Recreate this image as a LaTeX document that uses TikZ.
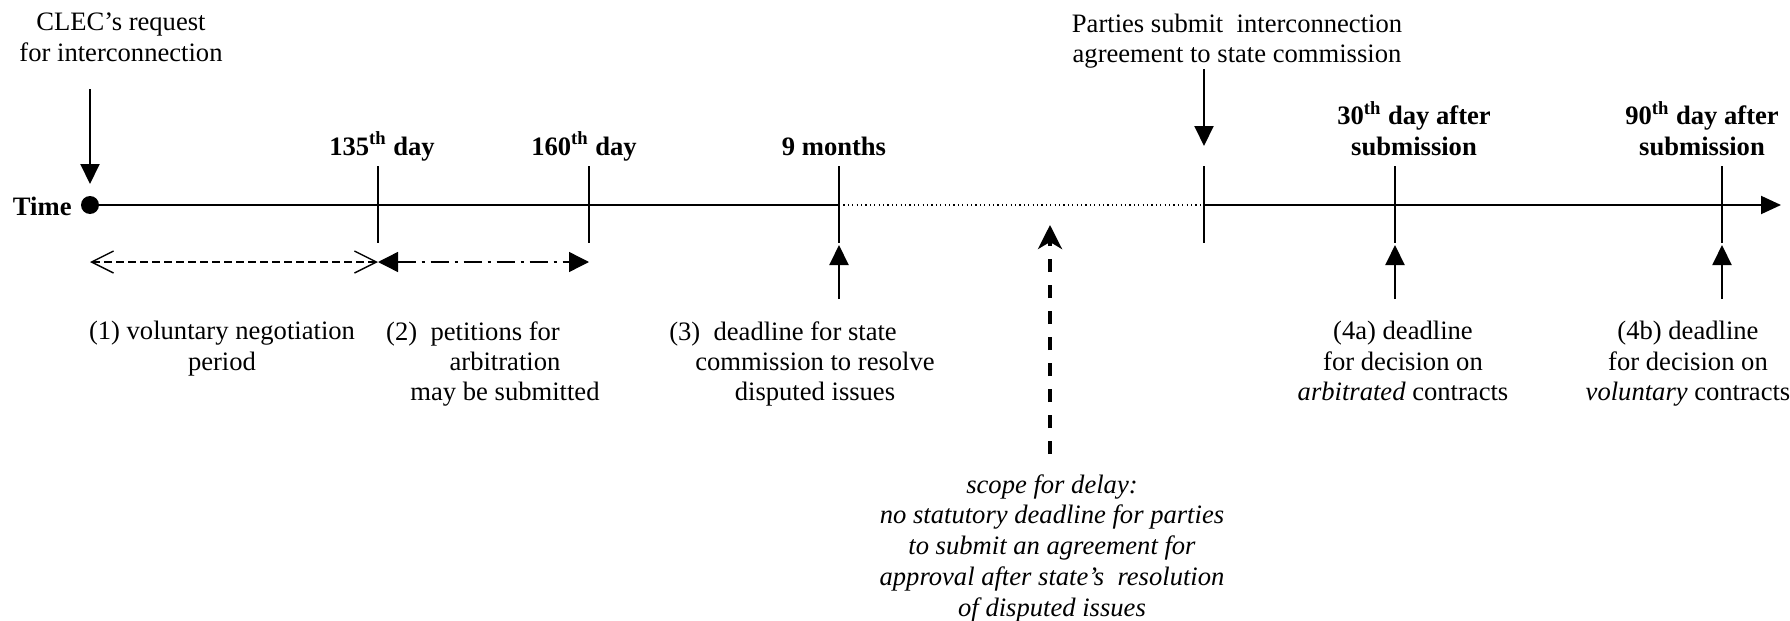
\documentclass[tikz,border=0pt]{standalone}
\usepackage{fontspec}
\setmainfont{Liberation Serif}
\usetikzlibrary{arrows.meta}
\begin{document}
\begin{tikzpicture}[x=0.5pt,y=-0.5pt,
  lbl/.style={font=\fontsize{13.3}{15.2}\selectfont, inner sep=0pt, align=center},
  blbl/.style={lbl, font=\fontsize{13.3}{15.2}\selectfont\bfseries},
  ilbl/.style={lbl, font=\fontsize{13.3}{15.4}\selectfont\itshape},
  tickline/.style={line width=0.8pt},
  axis/.style={line width=1pt},
  ptr/.style={line width=1pt, -{Triangle[length=10pt,width=9.5pt]}},
  delayptr/.style={line width=2pt, dash pattern=on 6.5pt off 6.5pt, -{Stealth[length=12pt,width=12pt,inset=3.5pt]}},
  spanA/.style={line width=0.7pt, dash pattern=on 4pt off 2pt, {Straight Barb[length=11pt,width=11pt]}-{Straight Barb[length=11pt,width=11pt]}},
  spanB/.style={line width=0.7pt, dash pattern=on 9pt off 3pt on 1.5pt off 3pt, {Triangle[length=10pt,width=10pt]}-{Triangle[length=10pt,width=10pt]}},
]
\useasboundingbox (0,0) rectangle (1790,621);

% timeline
\node[circle, fill=black, inner sep=0pt, minimum size=9pt] (t0) at (90,205) {};
\node[blbl, anchor=base east] (time) at (72,215) {Time};
\coordinate (m9) at (839,205);
\coordinate (sub) at (1204,205);
\coordinate (tend) at (1781,205);
\draw[axis] (t0.center) -- (m9);
\draw[line width=0.6pt, dash pattern=on 0.6pt off 1.6pt] (m9) -- (sub);
\draw[axis, -{Triangle[length=10pt,width=9pt]}] (sub) -- (tend);

% ticks
\foreach \n/\x in {k1/378, k2/589, k3/839, k4/1204, k5/1395, k6/1722} {
  \coordinate (\n t) at (\x,166);
  \coordinate (\n b) at (\x,243);
  \draw[tickline] (\n t) -- (\n b);
}

% top labels
\node[lbl, anchor=south] (clec) at (121,62) {CLEC’s request\\for interconnection};
\coordinate (clecA) at (90,89);
\coordinate (clecB) at (90,184);
\draw[ptr] (clecA) -- (clecB);

\node[lbl, anchor=south] (parties) at (1237,69) {Parties submit\ \ interconnection\\agreement to state commission};
\coordinate (parA) at (1204,69);
\coordinate (parB) at (1204,146);
\draw[ptr] (parA) -- (parB);

\node[blbl, anchor=base] (d135) at (382,155) {135\textsuperscript{th} day};
\node[blbl, anchor=base] (d160) at (584,155) {160\textsuperscript{th} day};
\node[blbl, anchor=base] (m9l) at (834,155) {9 months};
\node[blbl, anchor=south] (d30) at (1414,156) {30\textsuperscript{th} day after\\submission};
\node[blbl, anchor=south] (d90) at (1702,156) {90\textsuperscript{th} day after\\submission};

% spans
\coordinate (s0) at (90,262);
\coordinate (s1) at (378,262);
\coordinate (s2) at (589,262);
\draw[spanA] (s0) -- (s1);
\draw[spanB] (s1) -- (s2);

% up arrows
\foreach \n/\x in {u3/839, u4a/1395, u4b/1722} {
  \coordinate (\n b) at (\x,299);
  \coordinate (\n t) at (\x,245);
  \draw[ptr] (\n b) -- (\n t);
}

% delay arrow
\coordinate (dlB) at (1050,454);
\coordinate (dlT) at (1050,225);
\draw[delayptr] (dlB) -- (dlT);

% bottom labels
\node[lbl, anchor=north] (l1) at (222,321) {(1) voluntary negotiation\\period};
\node[lbl, anchor=north] (l2) at (505,321) {(2)\ \ petitions for\hspace*{32pt}\\arbitration\\may be submitted};
\node[lbl, anchor=north] (l3) at (815,321) {(3)\ \ deadline for state\hspace*{32pt}\\commission to resolve\\disputed issues};
\node[lbl, anchor=north] (l4a) at (1403,321) {(4a) deadline\\for decision on\\\textit{arbitrated} contracts};
\node[lbl, anchor=north] (l4b) at (1688,321) {(4b) deadline\\for decision on\\\textit{voluntary} contracts};
\node[ilbl, anchor=north] (scope) at (1052,474) {scope for delay:\\no statutory deadline for parties\\to submit an agreement for\\approval after state’s\ \ resolution\\of disputed issues};
\end{tikzpicture}
\end{document}
